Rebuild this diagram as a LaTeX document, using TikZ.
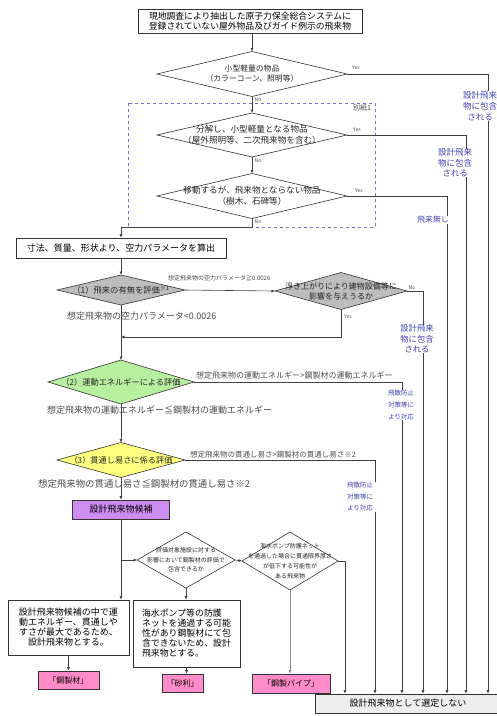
\documentclass[tikz,border=0pt]{standalone}
\usepackage{fontspec}
\setmainfont{Noto Sans CJK JP}
\usetikzlibrary{shapes.geometric,arrows.meta,calc}
\definecolor{dgray}{HTML}{BDBDBD}
\definecolor{lgreen}{HTML}{B8EEA0}
\definecolor{lyellow}{HTML}{FFFF80}
\definecolor{lpurple}{HTML}{CC8CF0}
\definecolor{lpink}{HTML}{FF8CC8}
\definecolor{lfin}{HTML}{EEEEEE}
\definecolor{lblue}{HTML}{4040B0}
\definecolor{dblue}{HTML}{7070D0}
\newcommand{\myfs}[2]{\fontsize{#1}{#2}\selectfont}
\begin{document}
\begin{tikzpicture}[x=1pt,y=-1pt,
  box/.style={draw=black!80, line width=0.6pt, fill=white, inner sep=0pt, align=center},
  dia/.style={diamond, draw=black!80, line width=0.6pt, inner sep=0pt, outer sep=0pt},
  dtext/.style={inner sep=0pt, align=center, text=black!85},
  ln/.style={draw=black!75, line width=0.6pt},
  arr/.style={ln, -{Latex[length=3.5pt,width=3pt]}},
  lbl/.style={inner sep=0pt, text=black!70, anchor=west},
  blbl/.style={inner sep=0pt, text=lblue, align=center},
  yn/.style={inner sep=0pt, text=black!70, font=\myfs{5}{6}}]
\useasboundingbox (0,0) rectangle (497,716);
\fill[white] (0,0) rectangle (497,716);

% column x positions
\coordinate (xa) at (488,0);
\coordinate (xb) at (466,0);
\coordinate (xc) at (447,0);
\coordinate (xd) at (423,0);
\coordinate (xe) at (402,0);
\coordinate (xf) at (375,0);
\coordinate (xg) at (345,0);

% dashed frame
\draw[dashed, draw=dblue, line width=0.7pt] (128,103) rectangle (375,227);
\node[inner sep=0pt, text=black!70, font=\myfs{7}{8}] (bessi) at (362,108) {別紙1};

% nodes
\node[box, minimum width=224pt, minimum height=24pt, font=\myfs{8.8}{10.5}] (top) at (250,21)
  {現地調査により抽出した原子力保全総合システムに\\登録されていない屋外物品及びガイド例示の飛来物};

\node[dia, fill=white, minimum width=190pt, minimum height=45pt] (d1) at (252,74) {};
\node[dtext, font=\myfs{7.8}{10}] at (d1) {小型軽量の物品\\（カラーコーン、照明等）};

\node[dia, fill=white, minimum width=190pt, minimum height=44pt] (d2) at (252,135) {};
\node[dtext, font=\myfs{8.6}{10.5}] at (d2) {分解し、小型軽量となる物品\\（屋外照明等、二次飛来物を含む）};

\node[dia, fill=white, minimum width=190pt, minimum height=45pt] (d3) at (252,196) {};
\node[dtext, font=\myfs{8.6}{10.5}] at (d3) {移動するが、飛来物とならない物品\\（樹木、石碑等）};

\node[box, minimum width=210pt, minimum height=20pt, font=\myfs{9}{10}] (calc) at (121,248)
  {寸法、質量、形状より、空力パラメータを算出};

\node[dia, fill=dgray, minimum width=128pt, minimum height=30pt] (g1) at (121,290) {};
\node[dtext, font=\myfs{8.3}{10}] at (g1) {（1）飛来の有無を評価\textsuperscript{※1}};

\node[dia, fill=dgray, minimum width=132pt, minimum height=37pt] (g2) at (341,291) {};
\node[dtext, font=\myfs{8}{10}] at (g2) {浮き上がりにより建物設備等に\\影響を与えうるか};

\node[dia, fill=lgreen, minimum width=146pt, minimum height=44pt] (gr) at (121,382) {};
\node[dtext, font=\myfs{8.2}{10}] at (gr) {（2）運動エネルギーによる評価};

\node[dia, fill=lyellow, minimum width=128pt, minimum height=35pt] (ye) at (121,460) {};
\node[dtext, font=\myfs{8.2}{10}] at (ye) {（3）貫通し易さに係る評価};

\node[box, fill=lpurple, minimum width=97pt, minimum height=19pt, font=\myfs{9}{10}] (pu) at (121,509.5) {設計飛来物候補};

\node[dia, fill=white, minimum width=98pt, minimum height=56pt] (dA) at (186,560) {};
\node[dtext, font=\myfs{6}{9.5}] at (dA) {評価対象施設に対する\\影響において鋼製材の評価で\\包含できるか};

\node[dia, fill=white, minimum width=96pt, minimum height=58pt] (dB) at (290,561) {};
\node[dtext, font=\myfs{6}{10}] at (dB) {海水ポンプ防護ネット\\を通過した場合に貫通限界厚さ\\が低下する可能性が\\ある飛来物};

\node[box, minimum width=121pt, minimum height=55pt, font=\myfs{9}{10}] (bl) at (68.5,627.5)
  {設計飛来物候補の中で運\\動エネルギー、貫通しや\\すさが最大であるため、\\設計飛来物とする。};
\node[box, minimum width=107pt, minimum height=67pt, font=\myfs{8.9}{10}, align=left] (mid) at (186.5,633.5)
  {海水ポンプ等の防護\\ネットを通過する可能\\性があり鋼製材にて包\\含できないため、設計\\飛来物とする。};

\node[box, fill=lpink, minimum width=61pt, minimum height=18pt, font=\myfs{8}{9}] (pk1) at (68.5,680) {「鋼製材」};
\node[box, fill=lpink, minimum width=41pt, minimum height=18pt, font=\myfs{8}{9}] (pk2) at (182.5,683) {「砂利」};
\node[box, fill=lpink, minimum width=78pt, minimum height=19pt, font=\myfs{8}{9}] (pk3) at (291,683.5) {「鋼製パイプ」};

\node[box, fill=lfin, minimum width=186pt, minimum height=19pt, font=\myfs{9}{10}] (fin) at (408,703.5) {設計飛来物として選定しない};

% blue side labels
\node[blbl, font=\myfs{8.5}{11}] (lab1) at (480,106) {設計飛来\\物に包含\\される};
\node[blbl, font=\myfs{8.5}{10.5}] (lab2) at (455,163) {設計飛来\\物に包含\\される};
\node[blbl, font=\myfs{7.8}{9}] (lab3) at (433,220) {飛来無し};
\node[blbl, font=\myfs{8.3}{10.5}] (lab4) at (417,339) {設計飛来\\物に包含\\される};
\node[blbl, font=\myfs{6.5}{12}] (lab5) at (401,405) {飛散防止\\対策等に\\より対応};
\node[blbl, font=\myfs{6.5}{11.5}] (lab6) at (360,497) {飛散防止\\対策等に\\より対応};

% condition labels
\node[lbl, font=\myfs{6}{7}] (c1) at (168,278) {想定飛来物の空力パラメータ≧0.0026};
\node[lbl, font=\myfs{9}{10}] (c2) at (67,316) {想定飛来物の空力パラメータ<0.0026};
\node[lbl, font=\myfs{8}{9}] (c3) at (196,375) {想定飛来物の運動エネルギー>鋼製材の運動エネルギー};
\node[lbl, font=\myfs{9}{10}] (c4) at (47,410) {想定飛来物の運動エネルギー≦鋼製材の運動エネルギー};
\node[lbl, font=\myfs{7.5}{8}] (c5) at (190,455) {想定飛来物の貫通し易さ>鋼製材の貫通し易さ※2};
\node[lbl, font=\myfs{9.4}{10}] (c6) at (38,484) {想定飛来物の貫通し易さ≦鋼製材の貫通し易さ※2};

% yes / no
\node[yn] (y1) at (356,68) {Yes};
\node[yn] (n1) at (258,100) {No};
\node[yn] (y2) at (357,130) {Yes};
\node[yn] (n2) at (258,161) {No};
\node[yn] (y3) at (359,191) {Yes};
\node[yn] (n3) at (258,222) {No};
\node[yn] (n4) at (412,288) {No};
\node[yn] (y4) at (348,317) {Yes};

% junctions
\coordinate (j1) at (252,227);
\coordinate (j2) at (121,337);
\coordinate (j3) at (121,560);

% connectors
\draw[arr] (top.south -| d1.north) -- (d1.north);
\draw[arr] (d1.south) -- (d2.north);
\draw[arr] (d2.south) -- (d3.north);
\draw[arr] (d3.south) -- (j1) -| (calc.north);
\draw[arr] (calc.south) -- (g1.north);
\draw[arr] (g1.east) -- (g2.west);
\draw[arr] (g2.south) |- (j2);
\draw[arr] (g1.south) -- (gr.north);
\draw[arr] (gr.south) -- (ye.north);
\draw[arr] (ye.south) -- (pu.north);
\draw[arr] (pu.south) -- (pu.south |- bl.north);
\draw[arr] (j3) -- (dA.west);
\draw[arr] (dA.east) -- (dB.west);
\draw[arr] (dA.south) -- (dA.south |- mid.north);
\draw[arr, draw=black!45] (dB.south) -- (dB.south |- pk3.north);
\draw[arr] (bl.south) -- (pk1.north);
\draw[arr] (mid.south) -- (mid.south |- pk2.north);

\draw[ln] (d1.east) -| (xa |- lab1.north);
\draw[arr] (xa |- lab1.south) -- (xa |- fin.north);
\draw[ln] (d2.east) -| (xb |- lab2.north);
\draw[arr] (xb |- lab2.south) -- (xb |- fin.north);
\draw[ln] (d3.east) -| (xc |- lab3.north);
\draw[arr] (xc |- lab3.south) -- (xc |- fin.north);
\draw[ln] (g2.east) -| (xd |- lab4.north);
\draw[arr] (xd |- lab4.south) -- (xd |- fin.north);
\draw[ln] (gr.east) -| (xe |- lab5.north);
\draw[arr] (xe |- lab5.south) -- (xe |- fin.north);
\draw[ln] (ye.east) -| (xf |- lab6.north);
\draw[arr] (xf |- lab6.south) -- (xf |- fin.north);
\draw[arr] (dB.east) -| (xg |- fin.north);
\end{tikzpicture}
\end{document}
